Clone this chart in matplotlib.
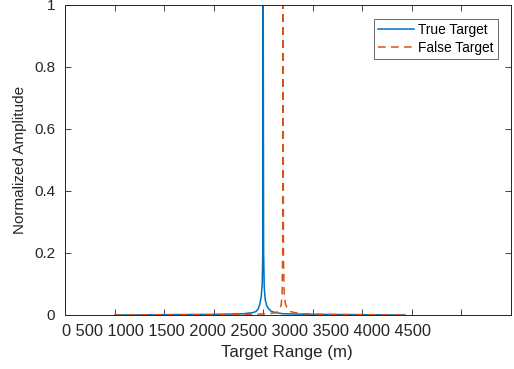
import matplotlib.pyplot as plt

plt.rcParams["font.family"] = ["Liberation Sans", "DejaVu Sans"]

# ── Data ───────────────────────────────────────────────────────────────────
TRUE_X = [500, 1000, 1500, 1800, 1900, 1930, 1950, 1965, 1980, 1990, 1996,
          2000, 2004, 2010, 2020, 2035, 2055, 2080, 2120, 2200, 2500, 3000, 3430]
TRUE_Y = [0.0, 0.001, 0.002, 0.004, 0.008, 0.012, 0.02, 0.035, 0.06, 0.1, 0.21,
          1.0, 0.2, 0.09, 0.05, 0.03, 0.02, 0.012, 0.008, 0.004, 0.002, 0.001, 0.0]

FALSE_X = [500, 1000, 1500, 1900, 2050, 2120, 2150, 2170, 2182, 2190, 2196,
           2200, 2204, 2212, 2225, 2245, 2270, 2310, 2400, 2600, 3000, 3430]
FALSE_Y = [0.0, 0.001, 0.001, 0.002, 0.004, 0.007, 0.012, 0.02, 0.035, 0.065, 0.2,
           1.0, 0.19, 0.06, 0.035, 0.02, 0.012, 0.008, 0.004, 0.002, 0.001, 0.0]

X_TICKS = [0, 500, 1000, 1500, 2000, 2500, 3000, 3500, 4000, 4500]
Y_TICKS = [0, 0.2, 0.4, 0.6, 0.8, 1.0]
TICK_TEXT = " ".join(str(t) for t in X_TICKS)

C_BLUE = "#0072BD"
C_ORANGE = "#D95319"
C_TEXT = "#262626"

# ── Figure ─────────────────────────────────────────────────────────────────
fig = plt.figure(figsize=(5.14, 3.69), dpi=100)
ax = fig.add_axes([65 / 514, 1 - 315 / 369, 446 / 514, 310 / 369])

ax.plot(TRUE_X, TRUE_Y, "-", color=C_BLUE, lw=1.1, label="True Target")
ax.plot(FALSE_X, FALSE_Y, "--", color=C_ORANGE, lw=1.1, label="False Target",
        dashes=(5, 3.5))

ax.set_xlim(0, 4500)
ax.set_ylim(0, 1)
ax.set_xticks(X_TICKS)
ax.set_xticklabels([])
ax.set_yticks(Y_TICKS)
ax.set_yticklabels(["0", "0.2", "0.4", "0.6", "0.8", "1"], fontsize=11)
ax.tick_params(direction="in", length=4, width=0.6, top=True, right=True,
               colors=C_TEXT, pad=7)
for s in ax.spines.values():
    s.set_linewidth(0.7)
    s.set_color(C_TEXT)

# the tick labels sit as one run of text under the axis
fig.text(62 / 514, 1 - 331 / 369, TICK_TEXT, ha="left", va="center",
         fontsize=11.75, color=C_TEXT)
fig.text(287 / 514, 1 - 353 / 369, "Target Range (m)", ha="center", va="center",
         fontsize=12.2, color=C_TEXT)
ax.set_ylabel("Normalized Amplitude", fontsize=11, color=C_TEXT, labelpad=5)

leg = ax.legend(loc="upper right", fontsize=9.9, frameon=True, fancybox=False,
                edgecolor=C_TEXT, bbox_to_anchor=(0.971, 0.955),
                borderaxespad=0.0, handlelength=2.6, borderpad=0.3,
                labelspacing=0.3, handletextpad=0.35)
leg.get_frame().set_linewidth(0.6)

fig.savefig("out.png", dpi=100)
